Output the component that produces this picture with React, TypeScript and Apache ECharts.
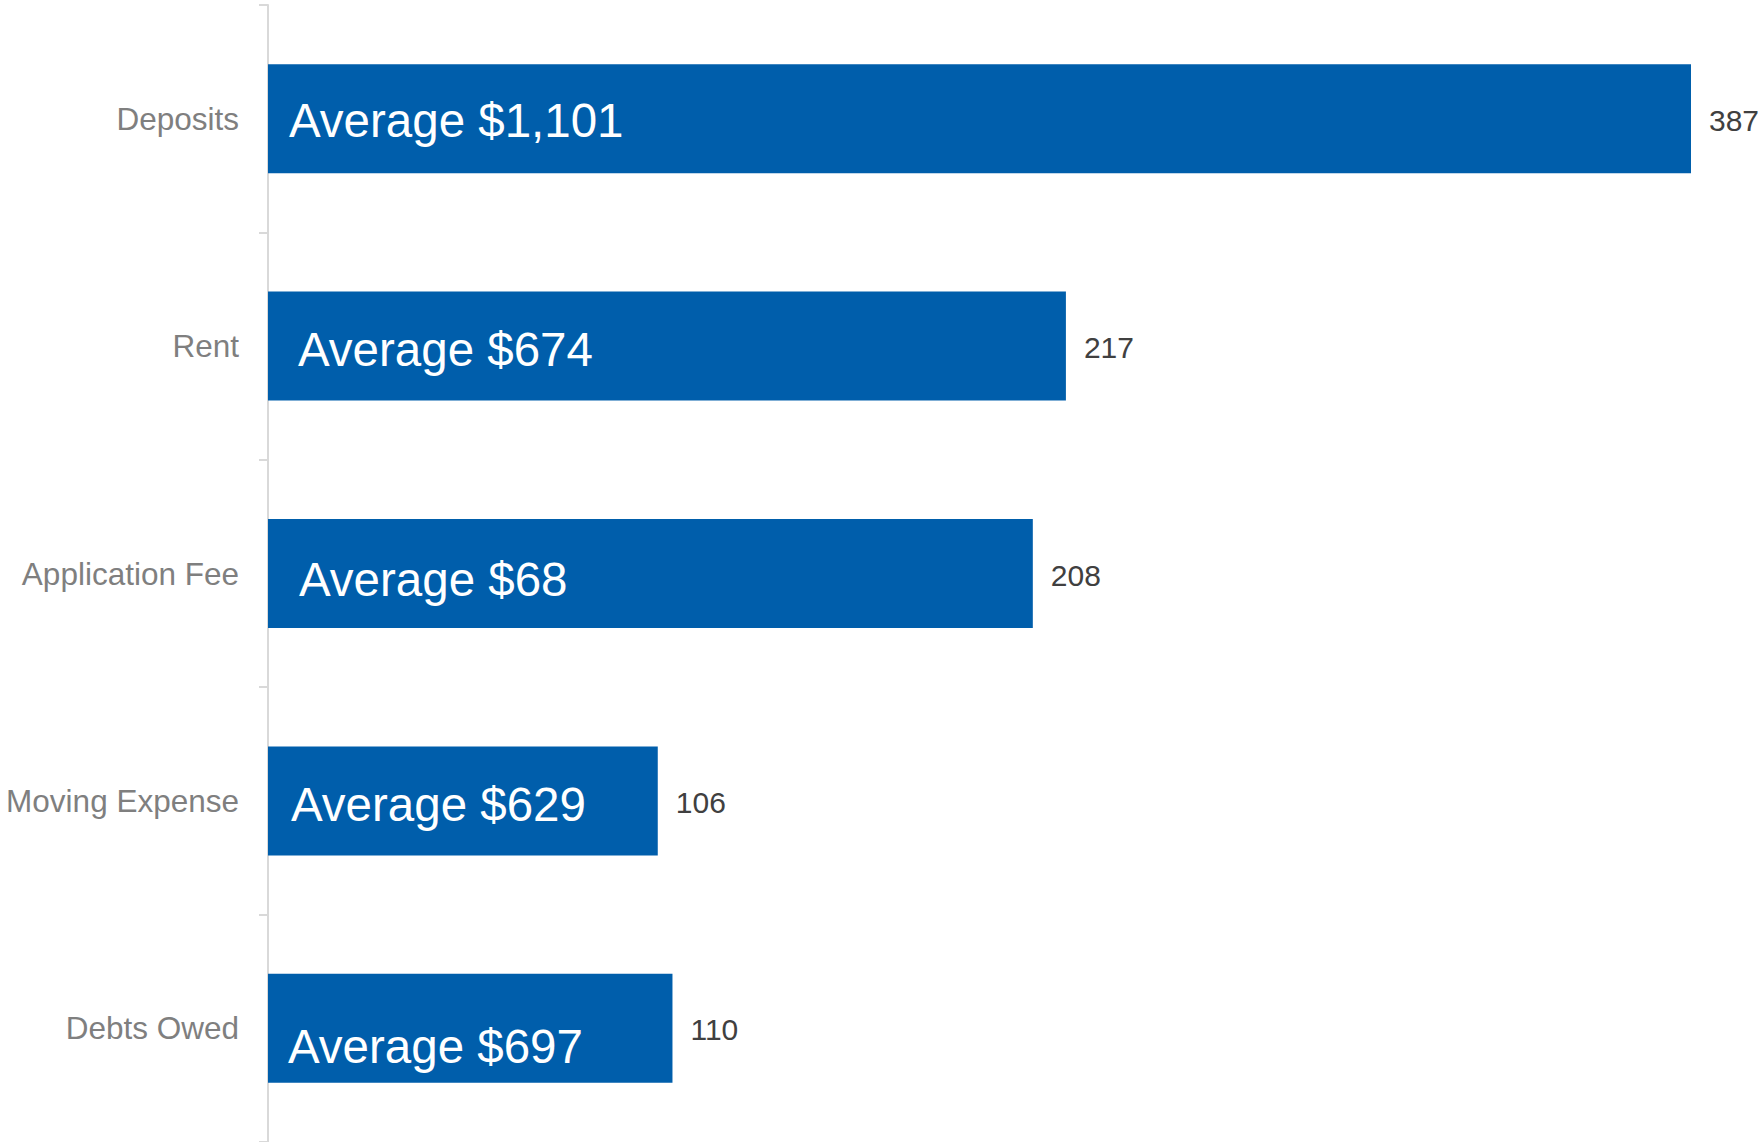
import React, { useEffect, useRef } from "react";
import * as echarts from "echarts";

const categories = ["Deposits", "Rent", "Application Fee", "Moving Expense", "Debts Owed"];
const counts = [387, 217, 208, 106, 110];
const averages = ["$1,101", "$674", "$68", "$629", "$697"];
const labelOffsets: [number, number][] = [
  [21, 2],
  [30, 3],
  [31, 6],
  [23, 4],
  [20, 18],
];

export default function App() {
  const ref = useRef<HTMLDivElement>(null);
  useEffect(() => {
    if (!ref.current) return;
    const chart = echarts.init(ref.current, undefined, { renderer: "svg" });
    const font = "Arial";
    chart.setOption({
      animation: false,
      backgroundColor: "#ffffff",
      grid: { left: 268, right: 68, top: 5, height: 1138, containLabel: false },
      xAxis: {
        type: "value",
        min: 0,
        max: 387,
        show: false,
      },
      yAxis: {
        type: "category",
        data: categories,
        inverse: true,
        axisLine: { show: true, lineStyle: { color: "#D9D9D9", width: 2 } },
        axisTick: { show: true, length: 9, lineStyle: { color: "#D9D9D9", width: 2 } },
        axisLabel: {
          margin: 29,
          color: "#7F7F7F",
          fontSize: 31.5,
          fontFamily: font,
        },
        splitLine: { show: false },
      },
      series: [
        {
          type: "bar",
          barWidth: 109,
          data: counts.map((v, i) => ({
            value: v,
            label: {
              offset: labelOffsets[i],
              formatter: "Average " + averages[i],
            },
          })),
          itemStyle: { color: "#005EAB" },
          label: {
            show: true,
            position: "insideLeft",
            distance: 0,
            color: "#ffffff",
            fontSize: 47.5,
            fontFamily: font,
          },
        },
        {
          type: "bar",
          barWidth: 109,
          barGap: "-100%",
          data: counts,
          itemStyle: { color: "rgba(0,0,0,0)" },
          label: {
            show: true,
            position: "right",
            distance: 18,
            offset: [0, 1.5],
            color: "#404040",
            fontSize: 30,
            fontFamily: font,
          },
          z: 3,
        },
      ],
    });
    return () => chart.dispose();
  }, []);
  return (
    <div
      ref={ref}
      style={{ position: "fixed", left: 0, top: 0, width: 1759, height: 1142, background: "#fff" }}
    />
  );
}
